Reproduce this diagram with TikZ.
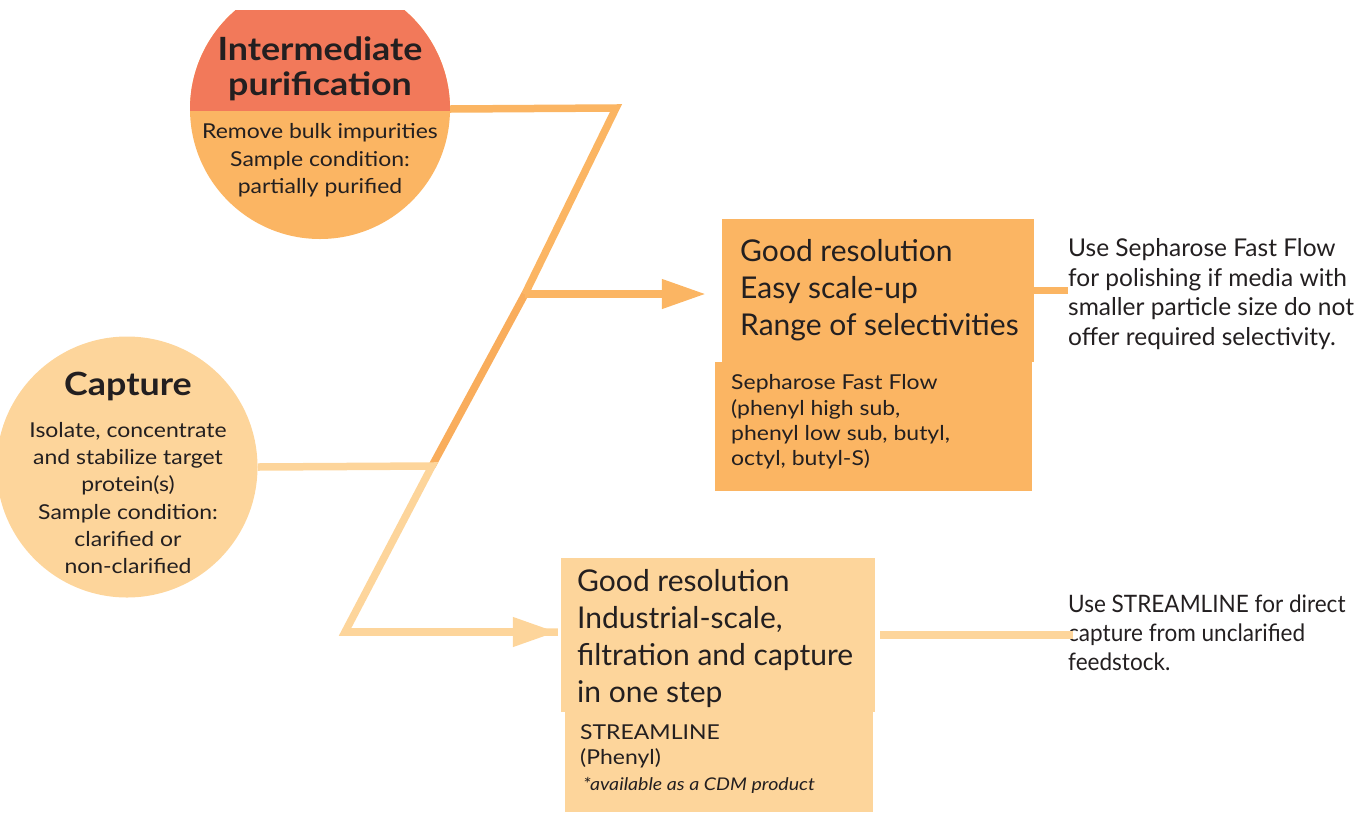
\documentclass[tikz,border=0pt]{standalone}
\usepackage{fontspec}
\setmainfont{Lato}
\newfontfamily\wide{Lato}[FakeStretch=1.12]
\newfontfamily\narrow{Lato}[FakeStretch=0.94]
\usetikzlibrary{arrows.meta}
\definecolor{redor}{HTML}{F2795A}
\definecolor{orng}{HTML}{FBB563}
\definecolor{dorng}{HTML}{F9AD5C}
\definecolor{lite}{HTML}{FDD59B}
\definecolor{ink}{HTML}{231F20}
\tikzset{
  conn/.style={line width=7.5pt, line join=miter},
  tip/.style={-{Triangle[length=44pt,width=28pt]}},
  txt/.style={inner sep=0pt, text=ink},
  blk/.style={inner sep=0pt, draw=none},
}
\newcommand{\fs}[2]{\fontsize{#1pt}{#2pt}\selectfont}
\begin{document}
\begin{tikzpicture}[x=1pt,y=-1pt]
\useasboundingbox (0,0) rectangle (1359,812);
% circles
\begin{scope}
\clip (0,10) rectangle (1359,812);
\node[circle, fill=orng, minimum size=260pt, inner sep=0pt] (inter) at (320,109) {};
\begin{scope}
\clip (150,0) rectangle (500,110);
\fill[redor] (inter.center) circle (130);
\end{scope}
\end{scope}
\node[circle, fill=lite, minimum size=261pt, inner sep=0pt] (cap) at (127,467) {};
% boxes
\node[blk, fill=orng, minimum width=312pt, minimum height=143pt] (b1u) at (878,290.5) {};
\node[blk, fill=orng, minimum width=317pt, minimum height=129pt] (b1l) at (873.5,426.5) {};
\node[blk, fill=lite, minimum width=314pt, minimum height=154pt] (b2u) at (718,635) {};
\node[blk, fill=lite, minimum width=308pt, minimum height=100pt] (b2l) at (719,762) {};
% junction coordinates
\coordinate (tc) at (616,108);
\coordinate (jc) at (432,466);
\coordinate (ja) at (525,294);
\coordinate (bc) at (345,632);
% texts
\node[txt, align=center, font=\wide\fs{32}{35}\bfseries] (t1) at (320,69) {Intermediate\\purification};
\node[txt, align=center, font=\wide\fs{20.5}{27.5}] (t1b) at (320,160.5) {Remove bulk impurities\\Sample condition:\\partially purified};
\node[txt, align=center, font=\wide\fs{32}{35}\bfseries] (t2) at (128,386) {Capture};
\node[txt, align=center, font=\wide\fs{20.5}{27.2}] (t2b) at (128,498) {Isolate, concentrate\\and stabilize target\\protein(s)\\Sample condition:\\clarified or\\non-clarified};
\node[txt, anchor=west, align=left, font=\fs{30}{37}] (m1) at (740,290) {Good resolution\\Easy scale-up\\Range of selectivities};
\node[txt, anchor=west, align=left, font=\wide\fs{20.5}{25.3}] (s1) at (731,422) {Sepharose Fast Flow\\(phenyl high sub,\\phenyl low sub, butyl,\\octyl, butyl-S)};
\node[txt, anchor=west, align=left, font=\fs{24.5}{29.7}] (n1) at (1068,294) {Use Sepharose Fast Flow\\for polishing if media with\\smaller particle size do not\\offer required selectivity.};
\node[txt, anchor=west, align=left, font=\fs{30}{37}] (m2) at (577,639) {Good resolution\\Industrial-scale,\\filtration and capture\\in one step};
\node[txt, anchor=west, align=left, font=\wide\fs{20.5}{25}] (s2) at (580,746.5) {STREAMLINE\\(Phenyl)};
\node[txt, anchor=west, font=\wide\fs{17.5}{20}\itshape] (s2i) at (583,785) {*available as a CDM product};
\node[txt, anchor=west, align=left, font=\narrow\fs{24}{29}] (n2) at (1068,633) {Use STREAMLINE for direct\\capture from unclarified\\feedstock.};
% connectors
\draw[conn, orng] (inter.east) -- (tc) -- (ja);
\draw[conn, dorng] (ja) -- (jc);
\draw[conn, lite] (cap.east) -- (jc) -- (bc) -- ([xshift=-3pt]bc -| b2u.west);
\draw[conn, lite, tip] (bc) -- ([xshift=-4pt]bc -| b2u.west);
\draw[conn, orng, tip] (ja) -- ([xshift=-16pt]ja -| b1u.west);
\draw[conn, orng] (b1u.east) -- (b1u.east -| n1.west);
\draw[conn, lite] ([xshift=5pt]b2u.east) -- ([xshift=5pt]b2u.east -| n2.west);
\end{tikzpicture}
\end{document}
